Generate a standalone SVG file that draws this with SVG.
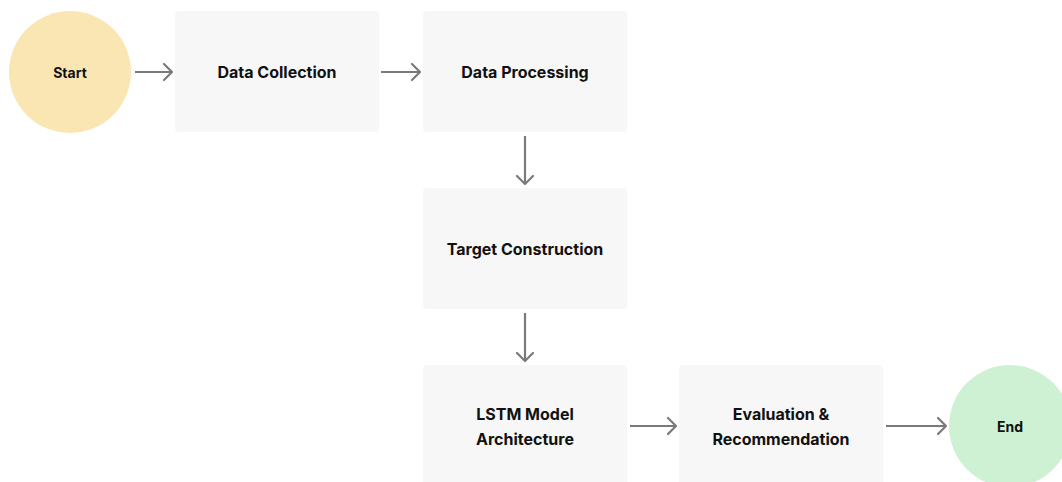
<svg xmlns="http://www.w3.org/2000/svg" width="1062" height="482" viewBox="0 0 1062 482">
<defs>
<style>
.box{fill:#f7f7f7;}
.lbl{font-family:Inter,"Liberation Sans",sans-serif;font-weight:700;font-size:16px;fill:#111111;text-anchor:middle;dominant-baseline:central;}
.sm{font-size:14px;}
.edge{stroke:#7a7a7a;stroke-width:2.2;fill:none;}
.head{stroke:#7a7a7a;stroke-width:2.2;fill:none;stroke-linecap:round;stroke-linejoin:round;}
</style>
</defs>
<rect width="1062" height="482" fill="#ffffff"/>
<g id="start"><circle cx="70" cy="72" r="61" fill="#fae6b2"/><text class="lbl sm" x="70" y="72">Start</text></g>
<g id="data-collection"><rect class="box" x="175" y="11" width="204" height="121" rx="4"/><text class="lbl" x="277" y="72">Data Collection</text></g>
<g id="data-processing"><rect class="box" x="423" y="11" width="204" height="121" rx="4"/><text class="lbl" x="525" y="72">Data Processing</text></g>
<g id="target-construction"><rect class="box" x="423" y="188" width="204" height="121" rx="4"/><text class="lbl" x="525" y="249">Target Construction</text></g>
<g id="lstm"><rect class="box" x="423" y="365" width="204" height="121" rx="4"/><text class="lbl" x="525" y="414">LSTM Model</text><text class="lbl" x="525" y="439">Architecture</text></g>
<g id="evaluation"><rect class="box" x="679" y="365" width="204" height="121" rx="4"/><text class="lbl" x="781" y="414">Evaluation &amp;</text><text class="lbl" x="781" y="439">Recommendation</text></g>
<g id="end"><circle cx="1010" cy="426" r="61" fill="#cdf1d2"/><text class="lbl sm" x="1010" y="426">End</text></g>
<g id="connectors">
<line class="edge" x1="135" y1="72" x2="171" y2="72"/><polyline class="head" points="164,64 172,72 164,80"/>
<line class="edge" x1="381" y1="72" x2="419" y2="72"/><polyline class="head" points="412,64 420,72 412,80"/>
<line class="edge" x1="525" y1="136" x2="525" y2="183"/><polyline class="head" points="517,176 525,184 533,176"/>
<line class="edge" x1="525" y1="313" x2="525" y2="360"/><polyline class="head" points="517,353 525,361 533,353"/>
<line class="edge" x1="630" y1="426" x2="675" y2="426"/><polyline class="head" points="668,418 676,426 668,434"/>
<line class="edge" x1="886" y1="426" x2="945" y2="426"/><polyline class="head" points="938,418 946,426 938,434"/>
</g>
</svg>
